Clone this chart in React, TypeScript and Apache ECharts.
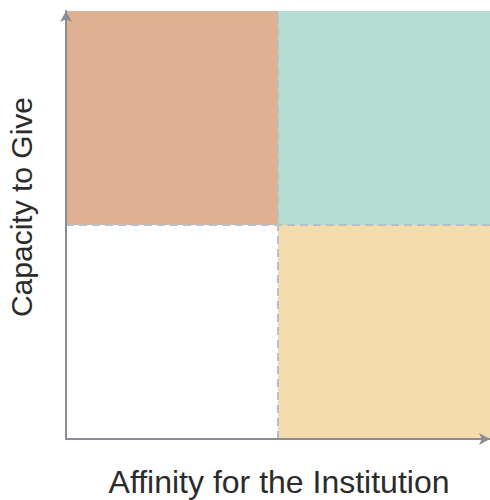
import React, { useEffect, useRef } from "react";
import * as echarts from "echarts";

const quadrantNames = ["High capacity / Low affinity", "High capacity / High affinity", "Low capacity / Low affinity", "Low capacity / High affinity"];
const quadrantX = [0, 1, 0, 1];
const quadrantY = [1, 1, 0, 0];
const dividerX = 1;
const dividerY = 1;
const xTitle = "Affinity for the Institution";
const yTitle = "Capacity to Give";

const fills = ["#DFB091", "#B5DDD3", "#FFFFFF", "#F4DCAC"];

export default function App() {
  const ref = useRef<HTMLDivElement>(null);
  useEffect(() => {
    if (!ref.current) return;
    const chart = echarts.init(ref.current, null, { renderer: "svg" });
    const data = quadrantNames.map((n, i) => ({ name: n, value: [quadrantX[i], quadrantY[i]] }));
    chart.setOption({
      animation: false,
      grid: { left: 66, right: 0, top: 11, bottom: 61, containLabel: false, outerBoundsMode: "none" },
      graphic: [
        {
          type: "text",
          x: 279,
          y: 482,
          style: {
            text: xTitle,
            fontSize: 32,
            fill: "#2B2B2B",
            fontFamily: "Liberation Sans",
            align: "center",
            verticalAlign: "middle",
          },
        },
        {
          type: "text",
          x: 21,
          y: 207,
          rotation: Math.PI / 2,
          style: {
            text: yTitle,
            fontSize: 30,
            fill: "#2B2B2B",
            fontFamily: "Liberation Sans",
            align: "center",
            verticalAlign: "middle",
          },
        },
      ],
      xAxis: {
        type: "value",
        min: 0,
        max: 2,
        z: 10,
        axisLine: { show: true, symbol: ["none", "arrow"], symbolSize: [9, 11], lineStyle: { color: "#8A8E94", width: 2 } },
        axisTick: { show: false },
        axisLabel: { show: false },
        splitLine: { show: false },
      },
      yAxis: {
        type: "value",
        min: 0,
        max: 2,
        z: 10,
        axisLine: { show: true, symbol: ["none", "arrow"], symbolSize: [9, 11], lineStyle: { color: "#8A8E94", width: 2 } },
        axisTick: { show: false },
        axisLabel: { show: false },
        splitLine: { show: false },
      },
      series: [
        {
          type: "custom",
          data,
          z: 1,
          renderItem: (params: any, api: any) => {
            const x = api.value(0);
            const y = api.value(1);
            const p0 = api.coord([x, y + 1]);
            const p1 = api.coord([x + 1, y]);
            return {
              type: "rect",
              shape: { x: p0[0], y: p0[1], width: p1[0] - p0[0], height: p1[1] - p0[1] },
              style: { fill: fills[params.dataIndex] },
            };
          },
          markLine: {
            silent: true,
            symbol: "none",
            z: 3,
            label: { show: false },
            lineStyle: { color: "#B8BFC9", width: 2, type: [8, 5] },
            data: [{ xAxis: dividerX }, { yAxis: dividerY }],
          },
        },
      ],
    });
    return () => chart.dispose();
  }, []);
  return <div ref={ref} style={{ width: 490, height: 500, position: "absolute", left: 0, top: 0 }} />;
}
